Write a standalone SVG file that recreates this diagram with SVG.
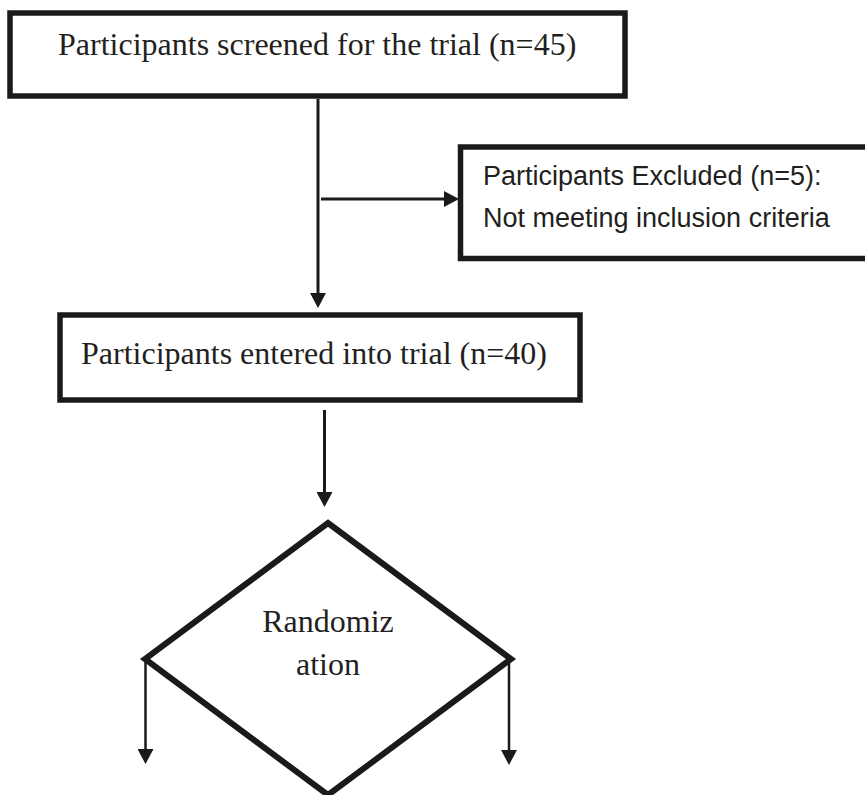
<svg xmlns="http://www.w3.org/2000/svg" width="865" height="795" viewBox="0 0 865 795">
  <defs>
    <style>
      .box { fill: #ffffff; stroke: #1a1a1a; stroke-width: 5.5; }
      .dia { fill: #ffffff; stroke: #1a1a1a; stroke-width: 6; stroke-linejoin: miter; }
      .serif { font-family: "Liberation Serif", "Times New Roman", serif; font-size: 32px; fill: #231f20; }
      .sans { font-family: "Liberation Sans", Arial, sans-serif; font-size: 27px; fill: #231f20; }
      .conn { fill: none; stroke: #1a1a1a; stroke-width: 3; marker-end: url(#ah); }
      .conn.thin { stroke-width: 2.5; }
    </style>
    <marker id="ah" markerUnits="userSpaceOnUse" viewBox="0 0 15 16" markerWidth="15" markerHeight="16" refX="3" refY="8" orient="auto">
      <path d="M0,0 L15,8 L0,16 z" fill="#1a1a1a"/>
    </marker>
  </defs>
  <rect width="865" height="795" fill="#ffffff"/>

  <g id="connectors">
    <path class="conn" d="M318,99 V296"/>
    <path class="conn" d="M321,199 H447"/>
    <path class="conn" d="M324.5,410 V495"/>
    <path class="conn thin" d="M145.5,659 V752"/>
    <path class="conn thin" d="M509,659 V753"/>
  </g>

  <g id="screened">
    <rect class="box" x="10" y="13" width="615" height="83"/>
    <text class="serif" x="58" y="55">Participants screened for the trial (n=45)</text>
  </g>

  <g id="excluded">
    <rect class="box" x="460.5" y="147" width="420" height="111.5"/>
    <text class="sans" x="483" y="185">Participants Excluded (n=5):</text>
    <text class="sans" x="483" y="227">Not meeting inclusion criteria</text>
  </g>

  <g id="entered">
    <rect class="box" x="60" y="315" width="520" height="85"/>
    <text class="serif" x="81" y="364">Participants entered into trial (n=40)</text>
  </g>

  <g id="randomization">
    <polygon class="dia" points="328,523 511,659 328,795 145,659"/>
    <text class="serif" x="328" y="632" text-anchor="middle">Randomiz</text>
    <text class="serif" x="328" y="675" text-anchor="middle">ation</text>
  </g>
</svg>
